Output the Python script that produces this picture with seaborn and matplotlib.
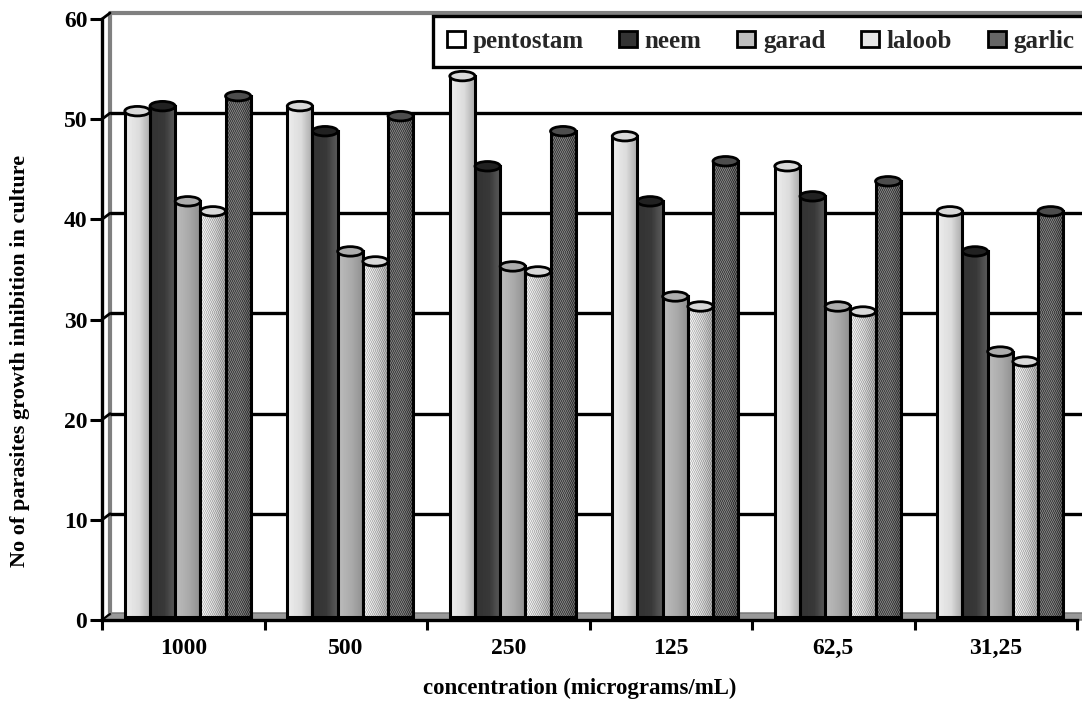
import numpy as np
import pandas as pd
import matplotlib
matplotlib.use("Agg")
import matplotlib.pyplot as plt
from matplotlib.patches import Ellipse, Patch, Polygon
from matplotlib.transforms import ScaledTranslation
import seaborn as sns

concentrations = ["1000", "500", "250", "125", "62,5", "31,25"]
drugs = ["pentostam", "neem", "garad", "laloob", "garlic"]
pentostam = [50.5, 51, 54, 48, 45, 40.5]
neem = [51, 48.5, 45, 41.5, 42, 36.5]
garad = [41.5, 36.5, 35, 32, 31, 26.5]
laloob = [40.5, 35.5, 34.5, 31, 30.5, 25.5]
garlic = [52, 50, 48.5, 45.5, 43.5, 40.5]
y_ticks = [0, 10, 20, 30, 40, 50, 60]

sns.set_style("white")
plt.rcParams["font.family"] = ["Liberation Serif", "DejaVu Serif"]
plt.rcParams["font.weight"] = "bold"

df = pd.DataFrame({
    "conc": concentrations * 5,
    "drug": np.repeat(drugs, 6),
    "value": pentostam + neem + garad + laloob + garlic,
})

W, H = 1082, 702
fig = plt.figure(figsize=(W / 100, H / 100), dpi=100)
ax = fig.add_axes([102 / W, 1 - 620 / H, 975 / W, 601 / H])

# per-series look: gradient stops (left, mid, right), stipple, top colour, legend colour
looks = {
    "pentostam": ((0.93, 0.86, 0.66), 0.0, "0.85", "white"),
    "neem": ((0.20, 0.22, 0.36), 0.0, "0.13", "0.2"),
    "garad": ((0.74, 0.66, 0.56), 0.0, "0.68", "0.75"),
    "laloob": ((0.88, 0.76, 0.60), 0.08, "0.85", "0.9"),
    "garlic": ((0.36, 0.38, 0.28), 0.10, "0.30", "0.4"),
}

sns.barplot(data=df, x="conc", y="value", hue="drug", order=concentrations,
            hue_order=drugs, width=0.775, gap=0, dodge=True, legend=False,
            palette=["none"] * 5, edgecolor="black", linewidth=2.2, ax=ax)

ax.set_xlim(-0.5, 5.5)
ax.set_ylim(0, 60)
fig.canvas.draw()

# bars stand midway in the depth of the 3-D box
offset = ScaledTranslation(4.5 / 100, 3 / 100, fig.dpi_scale_trans)
tr = ax.transData + offset
px_y = 601 / 60

for i, (drug, cont) in enumerate(zip(drugs, ax.containers)):
    stops, stipple, top_col, _ = looks[drug]
    for rect in cont.patches:
        x0, w, h = rect.get_x(), rect.get_width(), rect.get_height()
        rect.set_transform(tr)
        rect.set_facecolor("none")
        rect.set_zorder(3 + i * 0.1 + 0.01)
        ncol, nrow = 26, max(2, int(h * px_y / 2))
        g = np.interp(np.linspace(0, 1, ncol), [0, 0.55, 1], stops)
        arr = np.tile(g, (nrow, 1))
        if stipple:
            jj, ii = np.meshgrid(np.arange(ncol), np.arange(nrow))
            arr = arr + stipple * (((ii + jj) % 2) * 2 - 1)
        im = ax.imshow(arr, extent=(x0, x0 + w, 0, h), aspect="auto", cmap="gray",
                       vmin=0, vmax=1, interpolation="nearest",
                       zorder=3 + i * 0.1, transform=tr)
        im.set_clip_path(rect)
        ax.add_patch(Ellipse((x0 + w / 2, h), w, 9.5 / px_y, facecolor=top_col,
                             edgecolor="black", linewidth=2.0, transform=tr,
                             zorder=3 + i * 0.1 + 0.02))

ax.set_xlim(-0.5, 5.5)
ax.set_ylim(0, 60)

# 3-D box: floor, back wall, gridlines
fx = 8 / 975
dv = 0.6
yt = ax.get_yaxis_transform()
ax.add_patch(Polygon([(0, 0), (fx, dv + 0.1), (1.01, dv + 0.1), (1.01, 0)], closed=True,
                     transform=yt, facecolor="0.6", edgecolor="0.45", lw=1,
                     clip_on=False, zorder=1))
for v in y_ticks[1:-1]:
    ax.plot([fx, 1.01], [v + dv, v + dv], transform=yt, color="black", lw=2.4,
            clip_on=False, zorder=1.5, solid_capstyle="butt")
ax.plot([fx, fx, 1.01], [dv, 60 + dv, 60 + dv], transform=yt, color="0.5", lw=3,
        clip_on=False, zorder=1.2)
for v in y_ticks:
    ax.plot([0, fx], [v, v + dv], transform=yt, color="black", lw=2 if v else 1.5,
            clip_on=False, zorder=1.6)

# axes
for s in ("top", "right"):
    ax.spines[s].set_visible(False)
for s in ("left", "bottom"):
    ax.spines[s].set_linewidth(2.4)
    ax.spines[s].set_color("black")
ax.spines["bottom"].set_zorder(4.5)

ax.set_yticks(y_ticks)
ax.tick_params(axis="y", length=8.6, width=2.2, color="black", left=True, pad=2,
               labelsize=17, labelcolor="black")
ax.set_xticks(range(len(concentrations)), concentrations)
ax.set_xticks(np.arange(-0.5, 6, 1), minor=True)
ax.tick_params(axis="x", which="major", length=0, pad=13, labelsize=17, labelcolor="black")
ax.tick_params(axis="x", which="minor", length=7.5, width=2.2, color="black", bottom=True)

ax.set_xlabel("concentration (micrograms/mL)", fontsize=16.5, fontweight="bold", color="black")
ax.set_ylabel("No of parasites growth inhibition in culture", fontsize=16,
              fontweight="bold", color="black")
ax.xaxis.set_label_coords((580 - 102) / 975, (620 - 688) / 601)
ax.yaxis.set_label_coords((20 - 102) / 975, (620 - 361) / 601)
ax.xaxis.label.set_va("center")
ax.yaxis.label.set_va("center")

handles = [Patch(facecolor=looks[d][3], edgecolor="black", linewidth=2, label=d) for d in drugs]
leg = ax.legend(handles=handles, ncol=5, mode="expand", loc="center",
                bbox_to_anchor=(433 / W, 1 - 68 / H, 655 / W, 53 / H),
                bbox_transform=fig.transFigure, fontsize=18, frameon=True,
                fancybox=False, edgecolor="black", framealpha=1, facecolor="white",
                handlelength=0.72, handleheight=0.62, handletextpad=0.3,
                borderpad=0.55, borderaxespad=0, columnspacing=0.5)
leg.get_frame().set_linewidth(2.4)
leg.set_zorder(6)

fig.savefig("out.png", dpi=100, facecolor="white")
